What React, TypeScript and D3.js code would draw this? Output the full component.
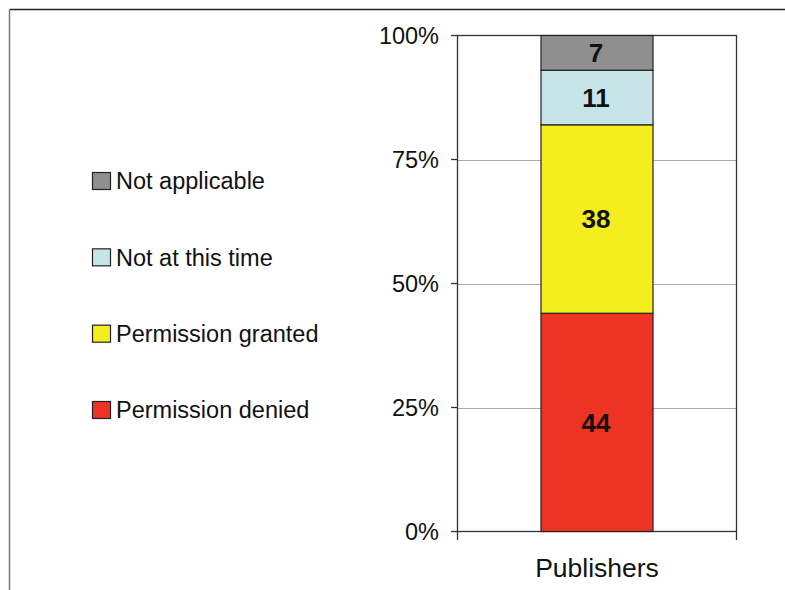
import React from "react";
import * as d3 from "d3";

const categories = ["Publishers"];
const seriesNames = ["Permission denied", "Permission granted", "Not at this time", "Not applicable"];
const seriesValues = [44, 38, 11, 7];
const seriesColors = ["#EE3224", "#F5EE1F", "#C7E5E9", "#8F8F8F"];
const yTicks = [0, 25, 50, 75, 100];
const legendOrder = ["Not applicable", "Not at this time", "Permission granted", "Permission denied"];

export default function App() {
  const W = 785, H = 590;
  const left = 457.5, right = 736.5, top = 35.5, bottom = 531.5;
  const y = d3.scaleLinear().domain([0, 100]).range([bottom, top]);
  const x = d3.scaleBand().domain(categories).range([left, right]).paddingInner(0.4).paddingOuter(0.3);
  const stackData = [Object.fromEntries(seriesNames.map((n, i) => [n, seriesValues[i]]))];
  const stack = d3.stack<any>().keys(seriesNames)(stackData);
  const font = "'Liberation Sans', Arial, sans-serif";
  const bx = 541, bw = 112;
  const legendY = d3.scalePoint().domain(legendOrder).range([181, 410]);
  return (
    <svg width={W} height={H} style={{ position: "absolute", left: 0, top: 0, background: "#fff" }}>
      <line x1={9.5} y1={9.5} x2={W} y2={9.5} stroke="#222" strokeWidth={1.5} />
      <line x1={9.5} y1={9.5} x2={9.5} y2={H} stroke="#777" strokeWidth={1.5} />
      {yTicks.filter(t => t > 0 && t < 100).map(t => (
        <line key={t} x1={left} x2={right} y1={Math.round(y(t)) + 0.5} y2={Math.round(y(t)) + 0.5} stroke="#aaa" strokeWidth={1} />
      ))}
      <rect x={left} y={top} width={right - left} height={bottom - top} fill="none" stroke="#333" strokeWidth={1.3} />
      {stack.map((s, i) => (
        <g key={s.key}>
          {s.map((d, j) => (
            <rect key={j} x={bx} width={bw} y={y(d[1])} height={y(d[0]) - y(d[1])}
              fill={seriesColors[i]} stroke="#222" strokeWidth={1.2} />
          ))}
        </g>
      ))}
      {stack.map((s, i) => s.map((d, j) => (
        <text key={s.key + j} x={bx + bw / 2 - 1} y={(y(d[0]) + y(d[1])) / 2} dy="0.36em"
          textAnchor="middle" fontFamily={font} fontWeight="bold" fontSize={26} fill="#111">
          {seriesValues[i]}
        </text>
      )))}
      {yTicks.map(t => (
        <g key={t}>
          <line x1={451} x2={left} y1={y(t)} y2={y(t)} stroke="#333" strokeWidth={1.3} />
          <text x={439} y={y(t)} dy="0.36em" textAnchor="end" fontFamily={font} fontSize={23.5} fill="#111">{t}%</text>
        </g>
      ))}
      <line x1={left} x2={left} y1={bottom} y2={540} stroke="#333" strokeWidth={1.3} />
      <line x1={right} x2={right} y1={bottom} y2={540} stroke="#333" strokeWidth={1.3} />
      {categories.map(c => (
        <text key={c} x={(x(c) ?? 0) + x.bandwidth() / 2} y={567} dy="0.36em" textAnchor="middle"
          fontFamily={font} fontSize={26.5} fill="#111">{c}</text>
      ))}
      {legendOrder.map(n => {
        const i = seriesNames.indexOf(n);
        const ly = legendY(n) ?? 0;
        return (
          <g key={n}>
            <rect x={92.5} y={ly - 8.5} width={18} height={17} fill={seriesColors[i]} stroke="#222" strokeWidth={1.2} />
            <text x={116} y={ly} dy="0.36em" fontFamily={font} fontSize={23.5} fill="#111">{n}</text>
          </g>
        );
      })}
    </svg>
  );
}
